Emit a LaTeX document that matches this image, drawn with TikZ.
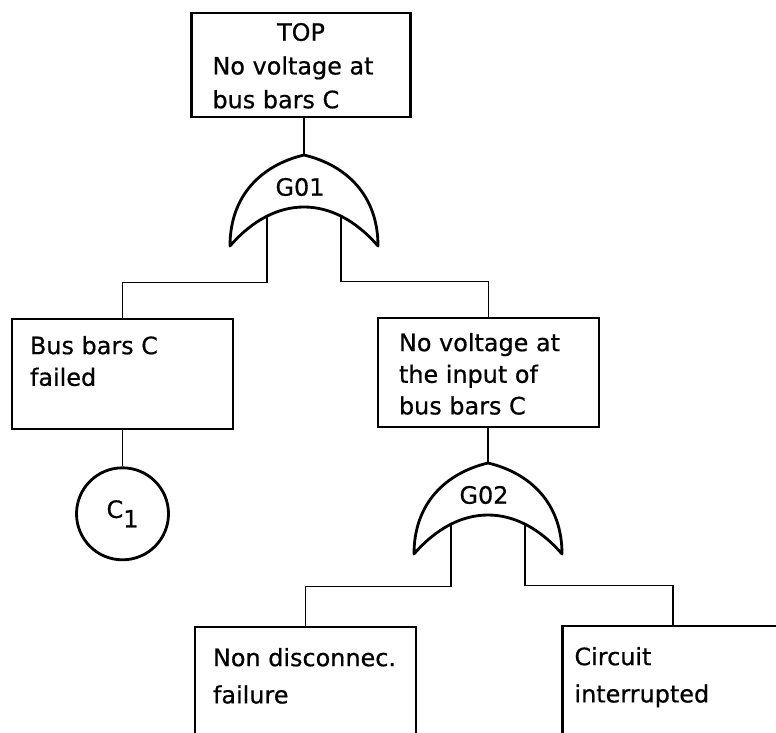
\documentclass[tikz,border=0pt]{standalone}
\usepackage{fontspec}
\setmainfont{DejaVu Sans}[FakeBold=0.6]
\usetikzlibrary{positioning}

\tikzset{
  orgate/.pic={
    \draw[gateln] (-1.85,-2.275) .. controls (-1.85,-1.0) and (-1.05,-0.25) .. (0,0)
      .. controls (1.05,-0.25) and (1.85,-1.0) .. (1.85,-2.275)
      .. controls (0.725,-0.975) and (-0.725,-0.975) .. (-1.85,-2.275) -- cycle;
    \coordinate (-top) at (0,0);
    \coordinate (-l) at (-0.925,-1.55);
    \coordinate (-r) at (0.925,-1.55);
    \node[gtxt] (-lbl) at (-0.1,-0.8) {#1};
  }
}

\begin{document}
\begin{tikzpicture}[
    evt/.style={draw, line width=2pt, inner xsep=0.45cm, inner ysep=0.425cm, font=\fontsize{17pt}{22.5pt}\selectfont},
    gateln/.style={line width=2pt, line join=round},
    gtxt/.style={font=\fontsize{17pt}{20pt}\selectfont, inner sep=0pt},
    conn/.style={line width=1.1pt}
]
\useasboundingbox (0,0) rectangle (19.4,-18.3);

\node[evt, inner xsep=0.525cm, inner ysep=0.25cm, font=\fontsize{17pt}{24pt}\selectfont] (top) at (7.525,-1.625)
  {\parbox[t][2.1cm][t]{4.425cm}{\centerline{TOP}No voltage at\\bus bars C}};
\pic (g1) at (7.6,-3.875) {orgate=G01};

\node[evt] (b1) at (3.0625,-9.35) {\parbox[t][1.9cm][t]{4.625cm}{Bus bars C\\failed}};
\node[evt, inner xsep=0.525cm, inner ysep=0.375cm] (b2) at (12.2125,-9.3125)
  {\parbox[t][1.975cm][t]{4.475cm}{No voltage at\\the input of\\bus bars C}};

\node[draw, circle, line width=2pt, minimum size=2.3cm, inner sep=0pt, font=\fontsize{17pt}{20pt}\selectfont, below=0.9cm of b1] (c1) {C\raisebox{-0.4em}{1}};
\pic (g2) at (12.2,-11.575) {orgate=G02};

\node[evt, inner ysep=0.525cm] (n1) at (7.6375,-17.05) {\parbox[t][1.7cm][t]{4.625cm}{Non disconnec.\\[4pt]failure}};
\node[evt, inner xsep=0.3cm, inner ysep=0.525cm] (n2) at (16.825,-17.025) {\parbox[t][1.7cm][t]{4.925cm}{Circuit\\[4pt]interrupted}};

\draw[conn] (top.south -| g1-top) -- (g1-top);
\draw[conn] (g1-l) |- ([yshift=0.875cm]b1.north) -- (b1.north);
\draw[conn] (g1-r) |- ([yshift=0.875cm]b2.north) -- (b2.north);
\draw[conn] (b1.south) -- (c1.north);
\draw[conn] (b2.south -| g2-top) -- (g2-top);
\draw[conn] (g2-l) |- ([yshift=0.975cm]n1.north) -- (n1.north);
\draw[conn] (g2-r) |- ([yshift=0.975cm]n2.north) -- (n2.north);
\end{tikzpicture}
\end{document}
